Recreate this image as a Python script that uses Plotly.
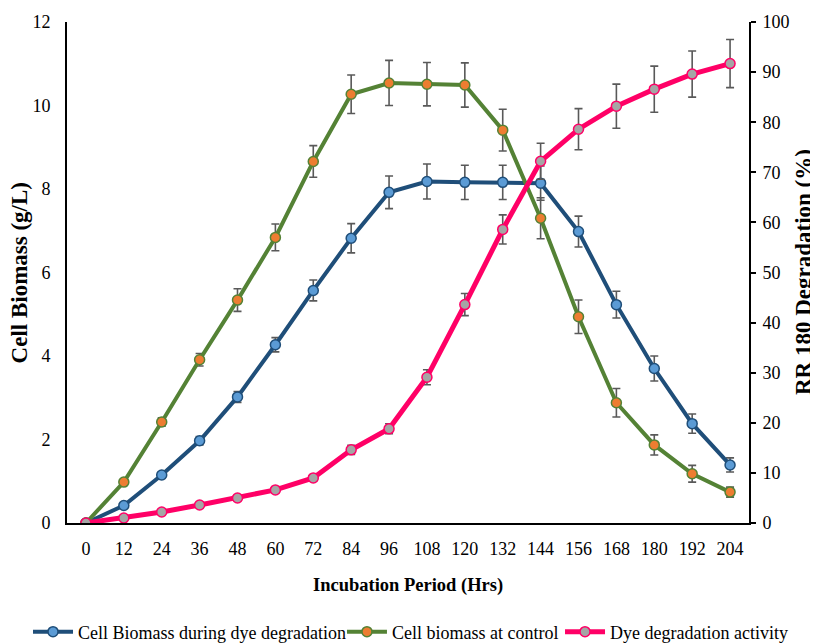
import plotly.graph_objects as go

hours = [0, 12, 24, 36, 48, 60, 72, 84, 96, 108, 120, 132, 144, 156, 168, 180, 192, 204]

biomass_dye = [0, 0.42, 1.15, 1.97, 3.02, 4.27, 5.57, 6.82, 7.92, 8.18, 8.16, 8.16, 8.14, 6.98, 5.23, 3.70, 2.38, 1.39]
biomass_dye_err = [0, 0.05, 0.07, 0.10, 0.13, 0.17, 0.25, 0.35, 0.39, 0.42, 0.41, 0.41, 0.41, 0.37, 0.32, 0.30, 0.23, 0.17]

biomass_ctrl = [0, 0.98, 2.42, 3.91, 5.34, 6.84, 8.66, 10.27, 10.54, 10.51, 10.49, 9.41, 7.30, 4.94, 2.88, 1.87, 1.18, 0.74]
biomass_ctrl_err = [0, 0.05, 0.10, 0.15, 0.27, 0.32, 0.38, 0.46, 0.54, 0.52, 0.53, 0.50, 0.49, 0.40, 0.34, 0.24, 0.20, 0.12]

dye_deg = [0, 1.0, 2.2, 3.6, 5.0, 6.6, 9.0, 14.6, 18.8, 29.1, 43.6, 58.6, 72.2, 78.6, 83.2, 86.6, 89.6, 91.7]
dye_deg_err = [0, 0.1, 0.2, 0.3, 0.4, 0.5, 0.6, 0.9, 1.0, 1.5, 2.2, 2.9, 3.6, 4.1, 4.4, 4.6, 4.6, 4.8]

x_title = "Incubation Period (Hrs)"
y_title = "Cell Biomass (g/L)"
y2_title = "RR 180 Degradation (%)"

FONT = "Liberation Serif"
ERR = dict(type="data", visible=True, color="#595959", thickness=1.6, width=4)

fig = go.Figure()

fig.add_trace(go.Scatter(
    x=hours, y=biomass_dye, name="Cell Biomass during dye degradation",
    mode="lines+markers",
    line=dict(color="#1F4E79", width=4),
    marker=dict(size=10, color="#5B9BD5", line=dict(color="#1F4E79", width=1.5)),
    error_y=dict(array=biomass_dye_err, **ERR),
    yaxis="y", legend="legend",
))
fig.add_trace(go.Scatter(
    x=hours, y=biomass_ctrl, name="Cell biomass at control",
    mode="lines+markers",
    line=dict(color="#548235", width=4),
    marker=dict(size=10, color="#ED7D31", line=dict(color="#548235", width=1.5)),
    error_y=dict(array=biomass_ctrl_err, **ERR),
    yaxis="y", legend="legend2",
))
fig.add_trace(go.Scatter(
    x=hours, y=dye_deg, name="Dye degradation activity",
    mode="lines+markers",
    line=dict(color="#FF0066", width=5),
    marker=dict(size=10, color="#A5A5A5", line=dict(color="#FF0066", width=1.5)),
    error_y=dict(array=dye_deg_err, **ERR),
    yaxis="y2", legend="legend3",
))

X_TITLE_FONT = dict(family=FONT, size=18.5, color="black")
Y_TITLE_FONT = dict(family=FONT, size=23, color="black")
LEG_FONT = dict(family=FONT, size=18, color="black")


def leg(xpos):
    return dict(orientation="h", xref="container", yref="container", x=xpos, xanchor="left",
                y=0.0189, yanchor="middle", font=LEG_FONT, itemwidth=40,
                bgcolor="rgba(0,0,0,0)")


# page has an 8px body margin, so the figure is 810x636 placed at (8, 8)
fig.update_layout(
    width=810, height=636,
    margin=dict(l=59, r=69, t=14, b=121, autoexpand=False),
    paper_bgcolor="white", plot_bgcolor="white",
    font=dict(family=FONT, size=18, color="black"),
    showlegend=True,
    legend=leg(0.0247),
    legend2=leg(0.4123),
    legend3=leg(0.6815),
    xaxis=dict(
        range=[-6, 210], tickvals=hours, ticktext=[str(h) for h in hours],
        showline=True, linecolor="black", linewidth=2, ticks="", showgrid=False,
        zeroline=False, tickfont=dict(family=FONT, size=18), automargin=False,
        ticklabelstandoff=8,
    ),
    yaxis=dict(
        range=[0, 12], tickvals=[0, 2, 4, 6, 8, 10, 12],
        showline=True, linecolor="black", linewidth=2, ticks="", showgrid=False,
        zeroline=False, tickfont=dict(family=FONT, size=18), automargin=False,
        ticklabelstandoff=11,
    ),
    yaxis2=dict(
        range=[0, 100], tickvals=list(range(0, 101, 10)), overlaying="y", side="right",
        showline=True, linecolor="black", linewidth=2, ticks="outside", ticklen=5,
        tickcolor="black", tickwidth=2, showgrid=False, zeroline=False,
        tickfont=dict(family=FONT, size=18), automargin=False, ticklabelstandoff=3,
    ),
    annotations=[
        dict(text="<b>%s</b>" % x_title, xref="paper", yref="paper", x=0.5, y=-0.124,
             xanchor="center", yanchor="middle", showarrow=False, font=X_TITLE_FONT),
        dict(text="<b>%s</b>" % y_title, xref="paper", yref="paper", x=-0.069, y=0.5,
             xanchor="center", yanchor="middle", showarrow=False, textangle=-90, font=Y_TITLE_FONT),
        dict(text="<b>%s</b>" % y2_title, xref="paper", yref="paper", x=1.0800, y=0.5,
             xanchor="center", yanchor="middle", showarrow=False, textangle=-90, font=Y_TITLE_FONT),
    ],
)

fig.write_html("out.html")
